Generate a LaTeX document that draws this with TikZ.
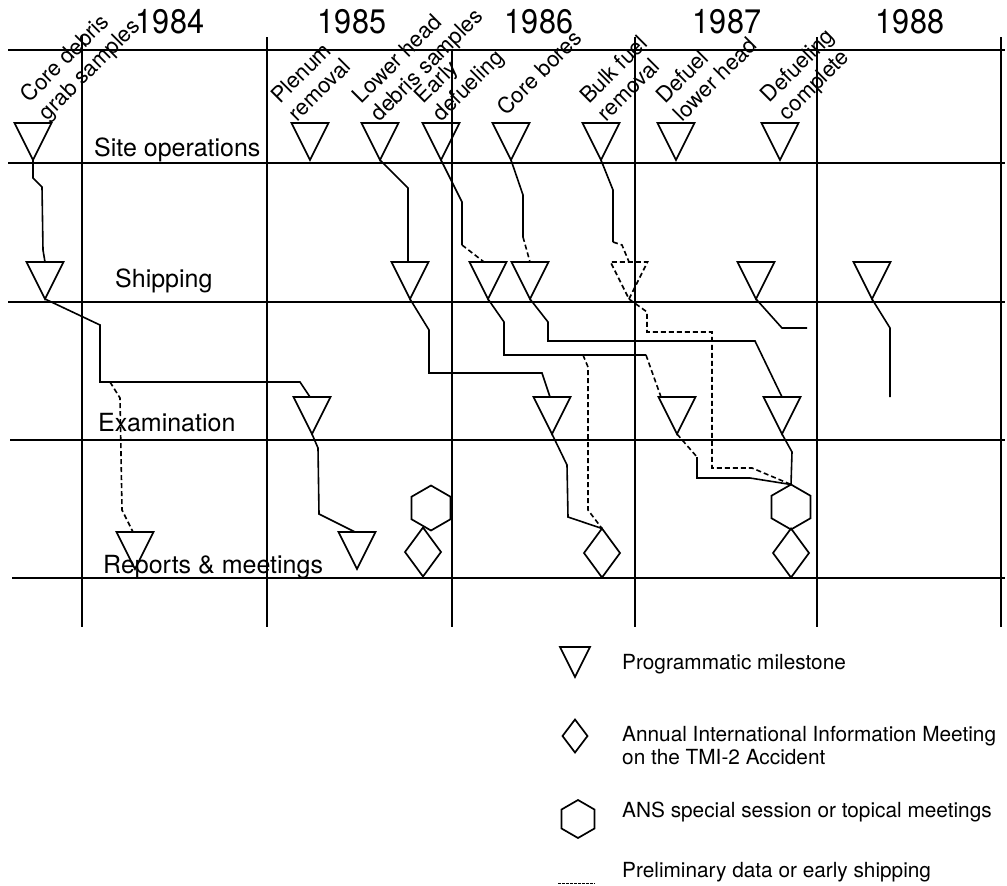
\documentclass[tikz,border=0pt]{standalone}
\usepackage{fontspec}
\setmainfont{TeX Gyre Heros}
\usepackage{graphicx}
\usetikzlibrary{shapes.geometric,calc}

\newcommand{\yearfont}{\fontsize{34}{34}\selectfont}
\newcommand{\rowfont}{\fontsize{25}{28}\selectfont}
\newcommand{\labfont}{\fontsize{22}{25}\selectfont}
\newcommand{\legfont}{\fontsize{20.8}{23}\selectfont}

\begin{document}
\begin{tikzpicture}[x=1pt, y=-1pt,
  gridline/.style={line width=1.8pt},
  mile/.style={draw, isosceles triangle, isosceles triangle apex angle=53.13, shape border rotate=270, minimum width=37pt, minimum height=37pt, inner sep=0pt, outer sep=0pt, line width=1.7pt, anchor=apex},
  dmile/.style={mile, dash pattern=on 5pt off 3pt},
  dia/.style={draw, diamond, minimum width=36pt, minimum height=49pt, inner sep=0pt, outer sep=0pt, line width=1.7pt},
  hexa/.style={draw, regular polygon, regular polygon sides=6, shape border rotate=30, minimum size=45pt, inner sep=0pt, outer sep=0pt, line width=1.7pt},
  link/.style={line width=1.6pt},
  dlink/.style={link, dash pattern=on 5pt off 3pt},
  legdash/.style={line width=0.9pt, dash pattern=on 2.5pt off 1.5pt},
  yearlab/.style={anchor=base, inner sep=0pt, font=\yearfont},
  rowlab/.style={anchor=base west, inner sep=0pt, font=\rowfont},
  milelab/.style={rotate=45, anchor=south west, align=left, inner sep=0pt, font=\labfont},
  legtext/.style={anchor=base west, inner sep=0pt, align=left, font=\legfont}]
\useasboundingbox (0,0) rectangle (1007,886);
\draw[gridline] (8,50) -- (1005,50);
\draw[gridline] (8,163) -- (1005,163);
\draw[gridline] (8,302) -- (1005,302);
\draw[gridline] (10,440) -- (1005,440);
\draw[gridline] (12,578) -- (1005,578);
\draw[gridline] (82,35) -- (82,627);
\draw[gridline] (267,37) -- (267,627);
\draw[gridline] (452,50) -- (452,627);
\draw[gridline] (635,37) -- (635,627);
\draw[gridline] (817,37) -- (817,627);
\draw[gridline] (1001,37) -- (1001,627);
\node[yearlab] (y1984) at (170,34) {\scalebox{0.9}[1]{1984}};
\node[yearlab] (y1985) at (352,33) {\scalebox{0.9}[1]{1985}};
\node[yearlab] (y1986) at (539,33) {\scalebox{0.9}[1]{1986}};
\node[yearlab] (y1987) at (727,33) {\scalebox{0.9}[1]{1987}};
\node[yearlab] (y1988) at (910,33) {\scalebox{0.9}[1]{1988}};
\node[rowlab] (site) at (94,156) {Site operations};
\node[rowlab] (ship) at (115,287) {Shipping};
\node[rowlab] (exam) at (98,431) {Examination};
\node[rowlab] (rep) at (103,573) {Reports \& meetings};
\node[mile] (s1) at (33,160) {};
\node[mile] (s2) at (310,160) {};
\node[mile] (s3) at (380,160) {};
\node[mile] (s4) at (441,160) {};
\node[mile] (s5) at (511,160) {};
\node[mile] (s6) at (601,160) {};
\node[mile] (s7) at (676,160) {};
\node[mile] (s8) at (780,160) {};
\node[milelab] (l1) at (51,125) {Core debris\\grab samples};
\node[milelab] (l2) at (298,123) {Plenum\\removal};
\node[milelab] (l3) at (383,126) {Lower head\\debris samples};
\node[milelab] (l4) at (445,126) {Early\\defueling};
\node[milelab] (l5) at (507,117) {Core bores};
\node[milelab] (l6) at (607,123) {Bulk fuel\\removal};
\node[milelab] (l7) at (683,123) {Defuel\\lower head};
\node[milelab] (l8) at (791,125) {Defueling\\complete};
\node[mile] (p1) at (45,299) {};
\node[mile] (p2) at (410,299) {};
\node[mile] (p3) at (488,299) {};
\node[mile] (p4) at (530,299) {};
\node[dmile] (p5) at (629,299) {};
\node[mile] (p6) at (756,299) {};
\node[mile] (p7) at (872,299) {};
\node[mile] (e1) at (312,434) {};
\node[mile] (e2) at (552,434) {};
\node[mile] (e3) at (677,434) {};
\node[mile] (e4) at (782,434) {};
\node[mile] (r1) at (135,569) {};
\node[mile] (r2) at (357,569) {};
\node[hexa] (h1) at (431,508) {};
\node[dia] (d1) at (423,552) {};
\node[dia] (d2) at (602,553) {};
\node[hexa] (h2) at (791,507) {};
\node[dia] (d3) at (791,553) {};
\coordinate (b1) at (110,382);
\coordinate (b2) at (583,355);
\coordinate (g1) at (462,245);
\coordinate (g2) at (646,355);
\coordinate (g3) at (523,237);
\coordinate (g4) at (613,242);
\coordinate (g5) at (697,457);
\coordinate (end1) at (807,328);
\coordinate (end2) at (890,397);
\draw[link] (s1.apex) -- (33,178) -- (42,187) -- (43,250) -- (p1.lower side);
\draw[link] (p1.apex) -- (100,325) -- (100,382) -- (300,382) -- ($(e1.lower side)+(-2,0)$);
\draw[dlink] (b1) -- (120,398) -- (122,510) -- ($(r1.lower side)+(-2,0)$);
\draw[link] (e1.apex) -- (318,448) -- (319,514) -- ($(r2.lower side)+(-2,0)$);
\draw[link] (s3.apex) -- (408,188) -- ($(p2.lower side)+(-2,0)$);
\draw[link] (p2.apex) -- (429,330) -- (429,373) -- (542,373) -- ($(e2.lower side)+(-2,0)$);
\draw[link] (s4.apex) -- (462,202) -- (g1);
\draw[dlink] (g1) -- ($(p3.lower side)+(-4,0)$);
\draw[link] (p3.apex) -- (504,322) -- (504,355) -- (g2);
\draw[dlink] (g2) -- ($(e3.lower side)+(-16,0)$);
\draw[dlink] (b2) -- (588,367) -- (588,510) -- (d2.north);
\draw[link] (s5.apex) -- (523,195) -- (g3);
\draw[dlink] (g3) -- (p4.lower side);
\draw[link] (p4.apex) -- (548,322) -- (548,341) -- (755,341) -- (e4.lower side);
\draw[link] (s6.apex) -- (613,190) -- (g4);
\draw[dlink] (g4) -- (622,245) -- (p5.lower side);
\draw[dlink] (p5.apex) -- (647,312) -- (647,332) -- (712,332) -- (712,468) -- (752,468) -- (h2.north);
\draw[dlink] (e3.apex) -- (g5);
\draw[link] (g5) -- (697,478) -- (750,478) -- (h2.north);
\draw[link] (e4.apex) -- (792,452) -- (h2.north);
\draw[link] (e2.apex) -- (567,465) -- (568,517) -- (d2.north);
\draw[link] (p6.apex) -- (782,328) -- (end1);
\draw[link] (p7.apex) -- (890,328) -- (end2);
\node[mile, minimum width=30pt, minimum height=30pt] (kmile) at (575,677) {};
\node[dia, minimum width=25pt, minimum height=33pt] (kdia) at (575,736) {};
\node[hexa, minimum size=38pt] (khex) at (578,819) {};
\coordinate (kdashA) at (558,883);
\coordinate (kdashB) at (595,883);
\draw[legdash] (kdashA) -- (kdashB);
\node[legtext] (tmile) at (622,669) {Programmatic milestone};
\node[legtext, anchor=south west] (tdia) at (622,765) {Annual International Information Meeting\\on the TMI-2 Accident};
\node[legtext] (thex) at (622,817) {ANS special session or topical meetings};
\node[legtext] (tdash) at (622,877) {Preliminary data or early shipping};
\end{tikzpicture}
\end{document}
